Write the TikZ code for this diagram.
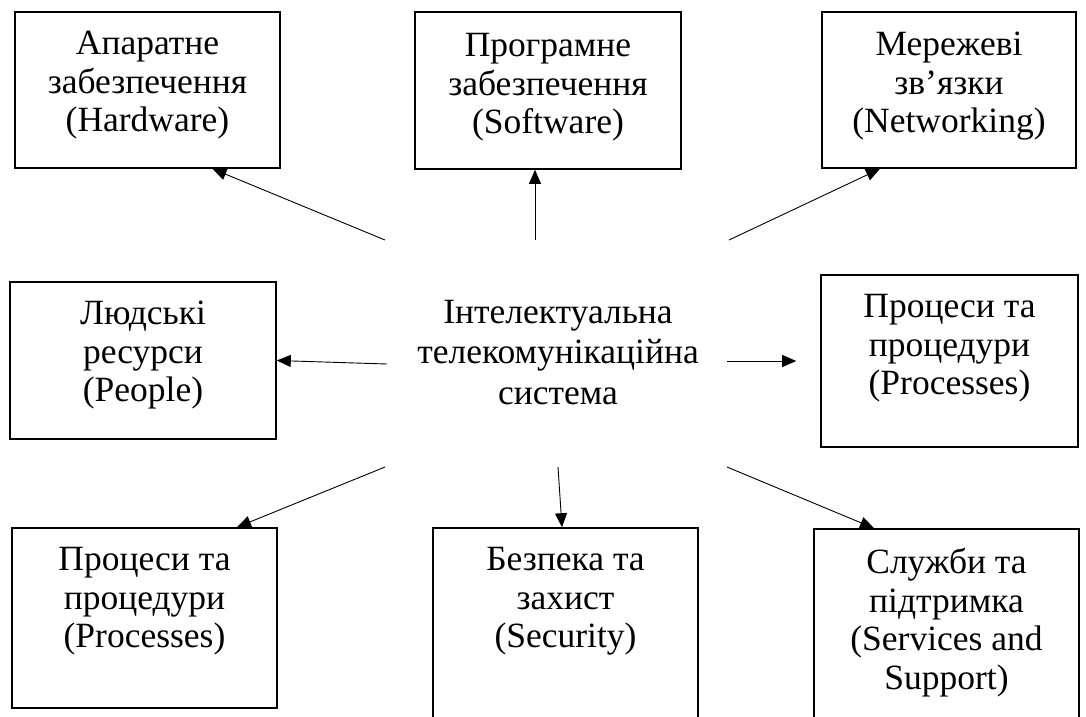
\documentclass[tikz,border=0pt]{standalone}
\usepackage{fontspec}
\setmainfont{Liberation Serif}
\usetikzlibrary{arrows.meta}

\begin{document}
\begin{tikzpicture}[x=1pt,y=-1pt,
  box/.style={draw, line width=1.6pt, inner sep=0pt},
  lbl/.style={anchor=north, inner sep=0pt, align=center,
              font=\fontsize{35.5}{38.5}\selectfont},
  hub/.style={anchor=north, inner sep=0pt, align=center,
              font=\fontsize{35.5}{40.5}\selectfont},
  arr/.style={-{Triangle[length=14pt,width=12pt]}, line width=0.9pt}
]
\useasboundingbox (0,0) rectangle (1086,716);

% outer boxes
\node[box, minimum width=265pt, minimum height=156pt] (b1) at (147.5,90) {};
\node[box, minimum width=266pt, minimum height=157pt] (b2) at (548,90.5) {};
\node[box, minimum width=254pt, minimum height=156pt] (b3) at (949,90) {};
\node[box, minimum width=266pt, minimum height=157pt] (b4) at (143,360.5) {};
\node[box, minimum width=257pt, minimum height=172pt] (b5) at (949.5,361) {};
\node[box, minimum width=265pt, minimum height=180pt] (b6) at (144.5,618) {};
\node[box, minimum width=265pt, minimum height=212pt] (b7) at (565.5,634) {};
\node[box, minimum width=265pt, minimum height=211pt] (b8) at (946.5,634.5) {};

% box captions
\node[lbl] (l1) at ([yshift=-20pt]b1.north) {Апаратне\\забезпечення\\(Hardware)};
\node[lbl] (l2) at ([yshift=-22pt]b2.north) {Програмне\\забезпечення\\(Software)};
\node[lbl] (l3) at ([yshift=-21pt]b3.north) {Мережеві\\зв’язки\\(Networking)};
\node[lbl] (l4) at ([yshift=-20pt]b4.north) {Людські\\ресурси\\(People)};
\node[lbl] (l5) at ([yshift=-20pt]b5.north) {Процеси та\\процедури\\(Processes)};
\node[lbl] (l6) at ([yshift=-20pt]b6.north) {Процеси та\\процедури\\(Processes)};
\node[lbl] (l7) at ([yshift=-20pt]b7.north) {Безпека та\\захист\\(Security)};
\node[lbl] (l8) at ([yshift=-20pt]b8.north) {Служби та\\підтримка\\(Services and\\Support)};

% central label
\node[hub] (sys) at (558,300) {Інтелектуальна\\телекомунікаційна\\система};

% arrow tails around the central label
\coordinate (t1) at (385,240);
\coordinate (t2) at (535,240);
\coordinate (t3) at (729,240);
\coordinate (t4) at (387,364);
\coordinate (t5) at (727,361);
\coordinate (t6) at (385,467);
\coordinate (t7) at (558,467);
\coordinate (t8) at (727,467);

% connectors
\draw[arr] (t1) -- ([xshift=65pt]b1.south);
\draw[arr] (t2) -- ([xshift=-13pt]b2.south);
\draw[arr] (t3) -- ([xshift=-69pt]b3.south);
\draw[arr] (t4) -- (b4.east);
\draw[arr, shorten >=24pt] (t5) -- (b5.west);
\draw[arr] (t6) -- ([xshift=92.5pt]b6.north);
\draw[arr] (t7) -- ([xshift=-3.5pt]b7.north);
\draw[arr] (t8) -- ([xshift=-72.5pt]b8.north);
\end{tikzpicture}
\end{document}
